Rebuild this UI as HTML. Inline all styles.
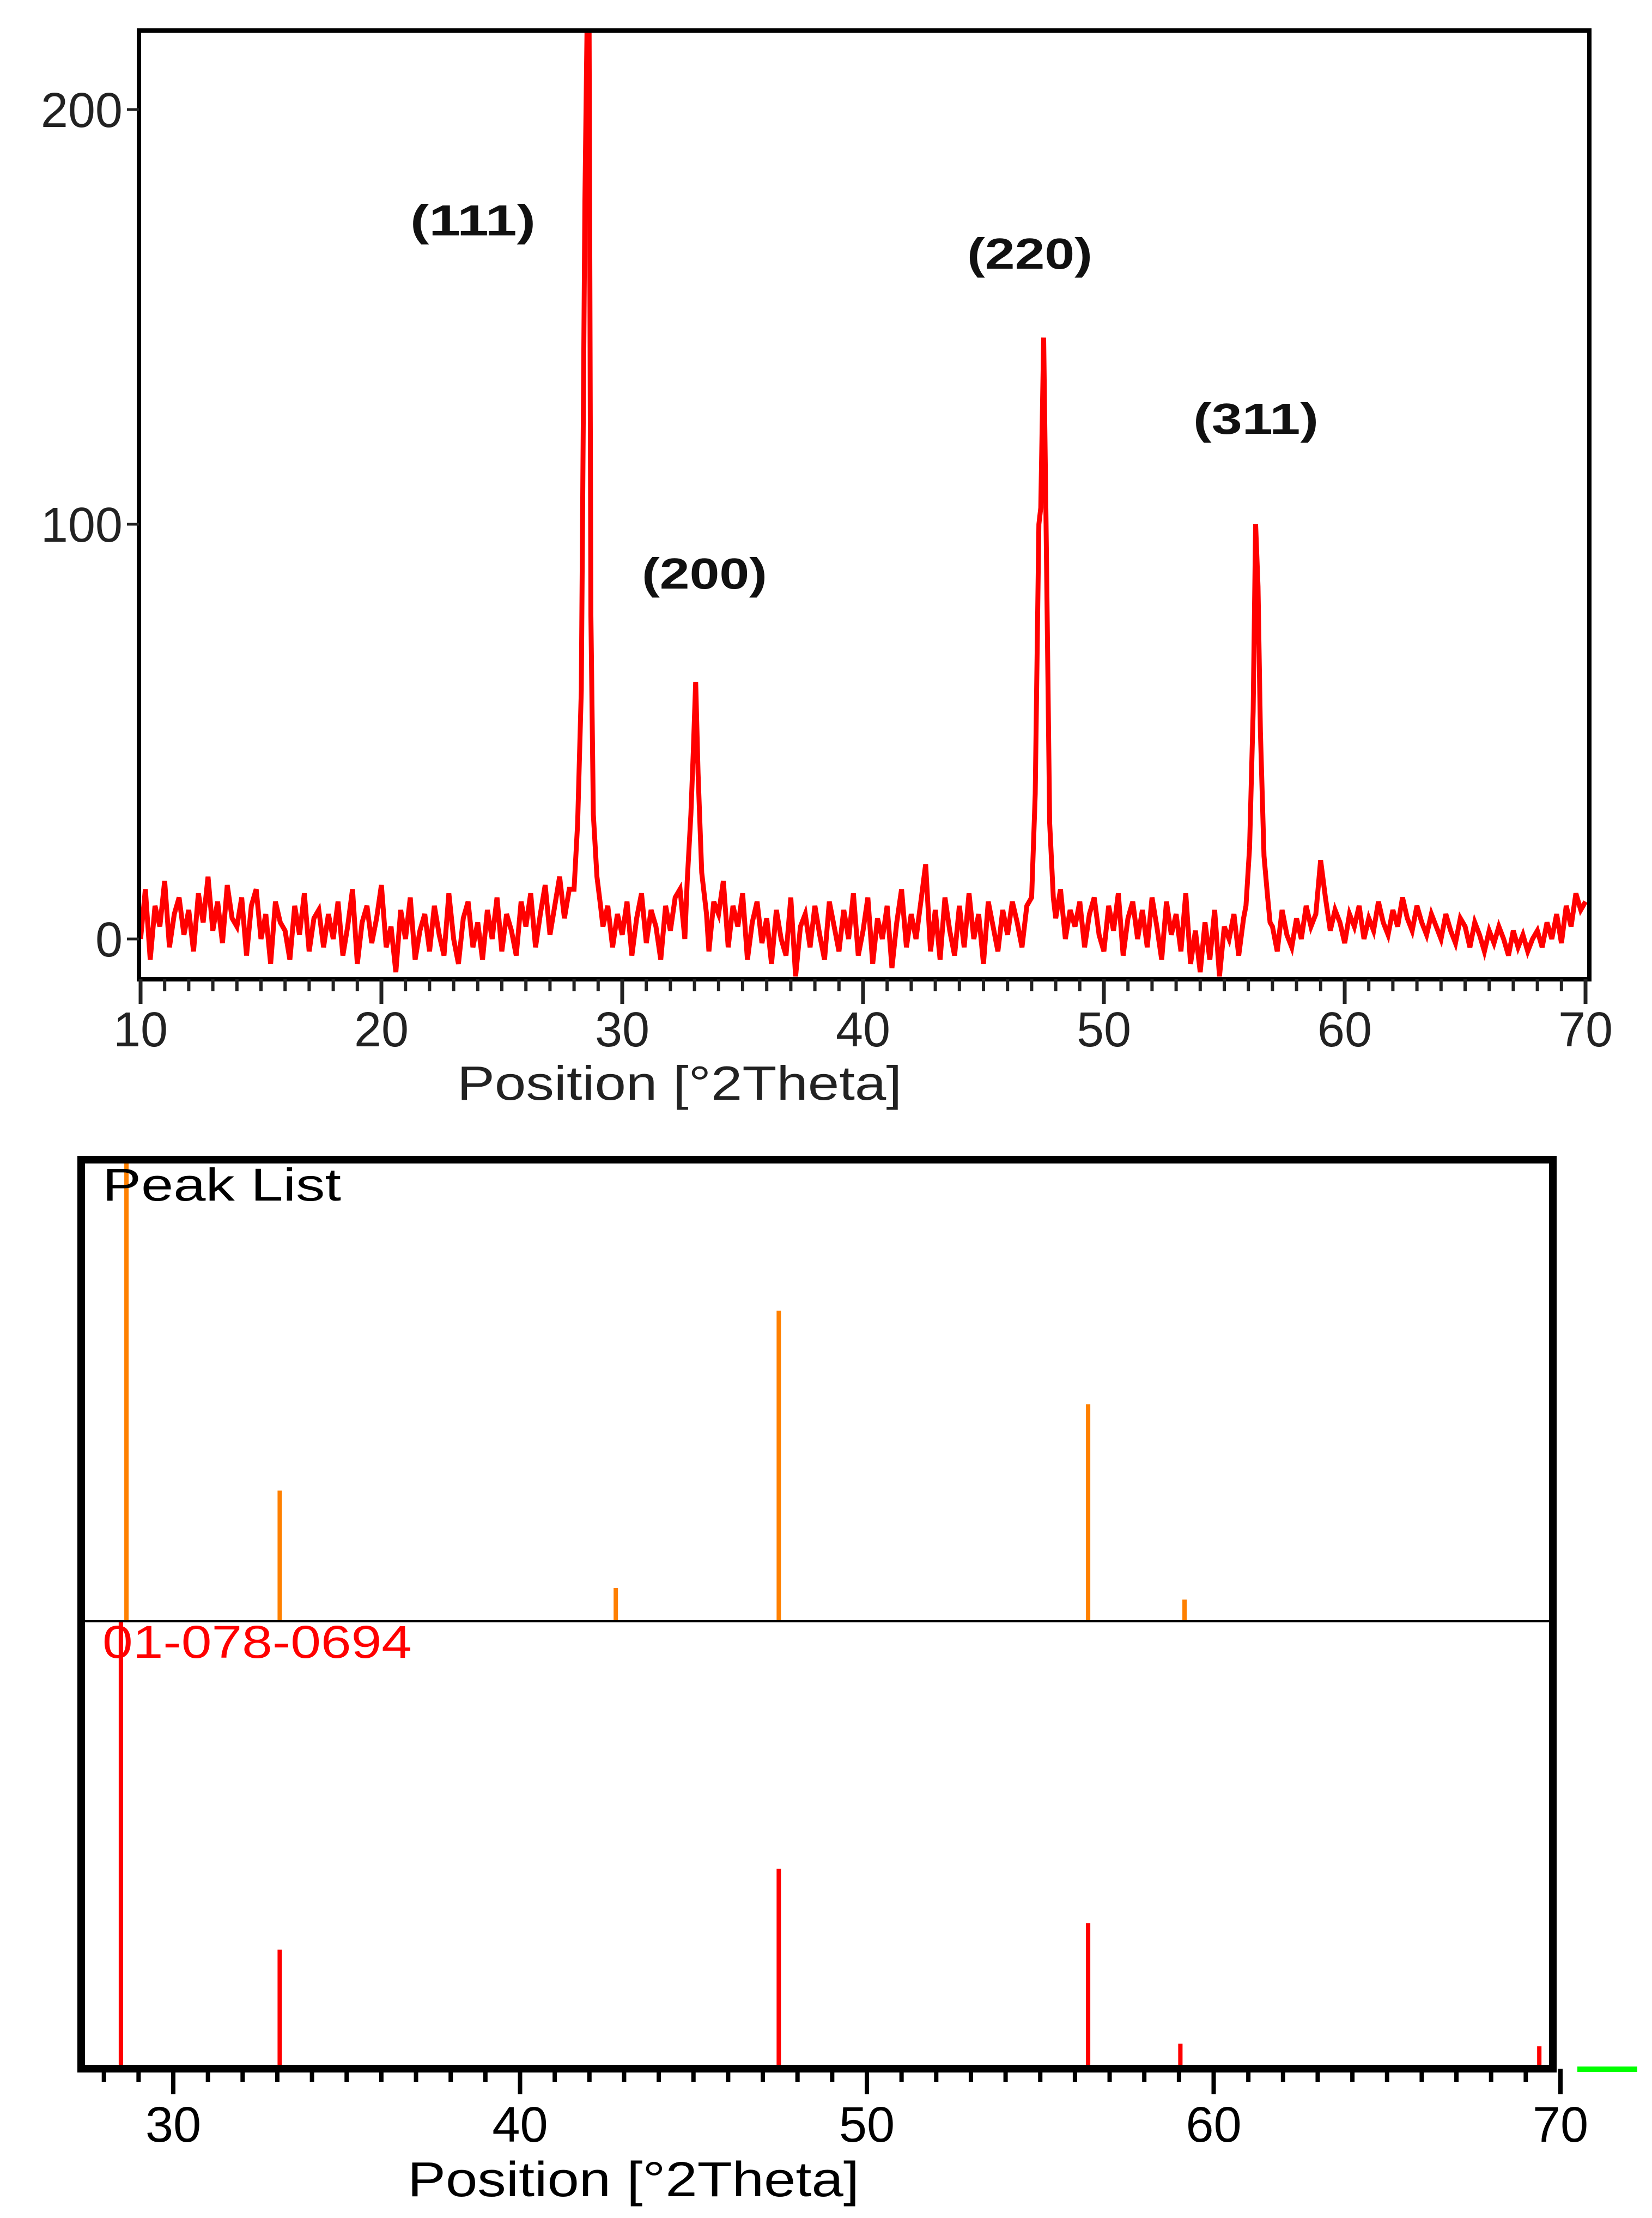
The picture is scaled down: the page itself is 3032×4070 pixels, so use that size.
<!DOCTYPE html>
<html><head><meta charset="utf-8">
<style>
html,body{margin:0;padding:0;background:#fff;}
svg{display:block;}
text{font-family:"Liberation Sans",sans-serif;}
</style></head>
<body>
<svg id="chart" width="3032" height="4070" viewBox="0 0 3032 4070" xmlns="http://www.w3.org/2000/svg">
<rect x="0" y="0" width="3032" height="4070" fill="#fff"/>
<g id="topchart"></g>
<g id="botchart"></g>
</svg>
<script>
// ---- top chart data ----
const bgStart = 10, bgStep = 0.2;
const bgValues = [
0,12,-5,8,3,14,-2,6,10,1,
7,-3,11,4,15,2,9,-1,13,5,
3,10,-4,8,12,0,6,-6,9,4,
2,-5,8,1,11,-3,5,7,-2,6,
0,9,-4,3,12,-6,4,8,-1,5,
13,-2,3,-8,7,0,10,-5,2,6,
-3,8,1,-4,11,0,-6,5,9,-2,
4,-5,7,0,10,-3,6,2,-4,9,
3,11,-2,6,13,1,8,15,5,12,
12,0,0,0,0,14,3,8,-2,6,
1,9,-4,5,11,-1,7,3,-5,8,
2,10,12,0,0,0,4,13,-3,9,
6,14,-2,8,3,11,-5,4,9,-1,
5,-6,7,0,-4,10,-9,3,6,-2,
8,1,-5,9,3,-3,7,0,11,-4,
2,10,-6,5,0,8,-7,4,12,-2,
6,0,9,18,-3,7,-5,10,2,-4,
8,-2,11,0,6,-6,9,3,-3,7,
1,9,4,-2,8,6,0,0,0,0,
5,12,0,7,3,9,-2,6,10,1,
-3,8,2,11,-4,5,9,0,7,-2,
10,3,-5,9,1,6,-3,11,-6,2,
-8,4,-5,7,-9,3,0,6,-4,5,
0,0,0,0,0,3,-3,7,1,-2,
5,0,8,3,6,19,10,2,7,4,
-1,6,3,8,0,5,2,9,4,1,
7,3,10,5,2,8,4,1,6,3,
0,6,2,-1,5,3,-2,4,1,-3,
2,-1,3,0,-4,2,-2,1,-3,0,
2,-2,4,0,6,-1,8,3,11,7,
9];
const peakWindows = [[28.0,29.1],[32.7,33.5],[47.0,48.0],[55.9,56.9]];
const peakX = [28.0,28.15,28.3,28.45,28.55,28.62,28.7,28.8,28.95,29.1, 32.7,32.85,32.95,33.05,33.15,33.3,33.5, 47.0,47.15,47.3,47.38,47.5,47.6,47.75,47.9,48.0, 55.9,56.05,56.2,56.3,56.4,56.5,56.65,56.8,56.9];
const peakY = [12,28,60,178,225,230,78,30,15,8, 14,30,45,62,40,16,6, 10,35,100,104,145,100,28,10,5, 8,22,55,100,85,50,20,10,4];
const yTicks = [0,100,200];
const xTicksTop = [10,20,30,40,50,60,70];
const hklLabels = ["(111)","(200)","(220)","(311)"];

// ---- bottom chart data ----
const peakListPos = [28.65,33.07,42.76,47.46,56.38,59.16];
const peakListInt = [100,28.3,7.2,67.3,47,4.7];
const refPos = [28.49,33.07,47.46,56.38,59.04,69.39];
const refInt = [100,26.6,44.7,32.5,5.6,5];
const xTicksBot = [30,40,50,60,70];

const NS="http://www.w3.org/2000/svg";
function mk(parent,tag,attrs){const e=document.createElementNS(NS,tag);for(const k in attrs)e.setAttribute(k,attrs[k]);parent.appendChild(e);return e;}

// top axes
const T={x0:258,x1:2910,y0:1723,y100:962,left:255,right:2917,top:56,bottom:1797};
const tx=v=>T.x0+(v-10)*(T.x1-T.x0)/60;
const ty=v=>T.y0-(v)*(T.y0-T.y100)/100;
const topG=document.getElementById('topchart');
let pts=[];
bgValues.forEach((v,i)=>{const x=bgStart+i*bgStep;if(!peakWindows.some(w=>x>=w[0]&&x<=w[1]))pts.push([x,v]);});
peakX.forEach((x,i)=>pts.push([x,peakY[i]]));
pts.sort((a,b)=>a[0]-b[0]);
const clip=mk(topG,'clipPath',{id:'tclip'});
mk(clip,'rect',{x:T.left,y:T.top,width:T.right-T.left,height:T.bottom-T.top});
const line=mk(topG,'polyline',{points:pts.map(p=>tx(p[0]).toFixed(1)+','+ty(p[1]).toFixed(1)).join(' '),fill:'none',stroke:'#ff0000','stroke-width':9,'stroke-linejoin':'miter','clip-path':'url(#tclip)'});


const tf=mk(topG,'rect',{x:T.left,y:T.top,width:T.right-T.left,height:T.bottom-T.top,fill:'none',stroke:'#000','stroke-width':8});


yTicks.forEach(v=>{
  mk(topG,'line',{x1:T.left-22,x2:T.left,y1:ty(v),y2:ty(v),stroke:'#222','stroke-width':5});
  const t=mk(topG,'text',{x:T.left-30,y:ty(v)+32,'text-anchor':'end','font-size':90,fill:'#222'});
  t.textContent=v;
  
  
});
for(let d=10;d<=70;d++){
  const major=d%10===0;
  mk(topG,'line',{x1:tx(d),x2:tx(d),y1:T.bottom,y2:T.bottom+(major?45:22),stroke:'#222','stroke-width':major?7:6});
}
xTicksTop.forEach(v=>{
  const t=mk(topG,'text',{x:tx(v),y:1920,'text-anchor':'middle','font-size':90,fill:'#222'});
  t.textContent=v;
  
  
});
const tt=mk(topG,'text',{x:839,y:2018,'font-size':88,fill:'#222',textLength:816,lengthAdjust:'spacingAndGlyphs'});
tt.textContent='Position [°2Theta]';


const hklCx=[868,1293,1890,2305];
const hklBase=[432,1080,493,796];
hklLabels.forEach((s,i)=>{
  const t=mk(topG,'text',{x:hklCx[i]-115,y:hklBase[i],'font-size':80,'font-weight':'bold',fill:'#111',textLength:230,lengthAdjust:'spacingAndGlyphs'});
  t.textContent=s;
  
  
});

// bottom axes
const B={left:149,right:2850,top:2128,mid:2975,bottom:3796,x30:318,x70:2864};
const bx=v=>B.x30+(v-30)*(B.x70-B.x30)/40;
const botG=document.getElementById('botchart');
peakListPos.forEach((p,i)=>{
  const l=mk(botG,'line',{x1:bx(p),x2:bx(p),y1:B.mid,y2:B.mid-peakListInt[i]/100*(B.mid-B.top),stroke:'#ff8000','stroke-width':8});
  
  
});
refPos.forEach((p,i)=>{
  const l=mk(botG,'line',{x1:bx(p),x2:bx(p),y1:B.bottom,y2:B.bottom-refInt[i]/100*(B.bottom-B.mid),stroke:'#ff0000','stroke-width':8});
  
  
});
mk(botG,'line',{x1:B.left,x2:B.right,y1:B.mid,y2:B.mid,stroke:'#000','stroke-width':4});
const bf=mk(botG,'rect',{x:B.left,y:B.top,width:B.right-B.left,height:B.bottom-B.top,fill:'none',stroke:'#000','stroke-width':14});


for(let d=28;d<=70;d++){
  const major=d%10===0;
  mk(botG,'line',{x1:bx(d),x2:bx(d),y1:B.bottom,y2:B.bottom+(major?47:24),stroke:'#000','stroke-width':8});
}
xTicksBot.forEach(v=>{
  const t=mk(botG,'text',{x:bx(v),y:3930,'text-anchor':'middle','font-size':92,fill:'#000'});
  t.textContent=v;
  
  
});
const pl=mk(botG,'text',{x:188,y:2203,'font-size':84,fill:'#000',textLength:438,lengthAdjust:'spacingAndGlyphs'});
pl.textContent='Peak List';


const rl=mk(botG,'text',{x:188,y:3042,'font-size':84,fill:'#ff0000',textLength:568,lengthAdjust:'spacingAndGlyphs'});
rl.textContent='01-078-0694';


const bt=mk(botG,'text',{x:748,y:4030,'font-size':90,fill:'#000',textLength:829,lengthAdjust:'spacingAndGlyphs'});
bt.textContent='Position [°2Theta]';


const g=mk(botG,'rect',{x:2895,y:3792,width:110,height:10,fill:'#00ff00'});


</script>
</body></html>
